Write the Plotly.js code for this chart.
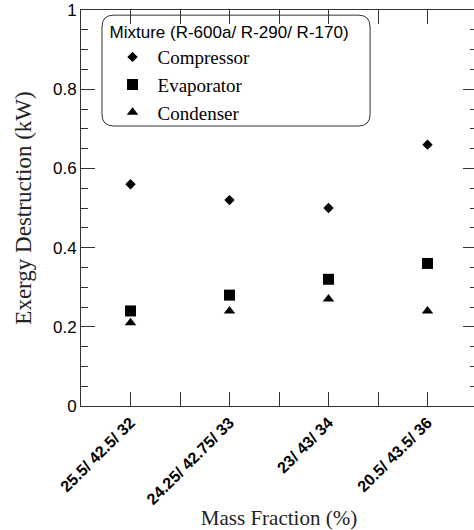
<!DOCTYPE html>
<html>
<head>
<meta charset="utf-8">
<script src="https://cdn.plot.ly/plotly-3.0.1.min.js"></script>
<style>
html,body{margin:0;padding:0;overflow:hidden;background:#fff;}
#chart{width:478px;height:530px;}
</style>
</head>
<body>
<div id="chart"></div>
<script>
// Data
const categories = ['25.5/ 42.5/ 32', '24.25/ 42.75/ 33', '23/ 43/ 34', '20.5/ 43.5/ 36'];
const compressor = [0.56, 0.52, 0.50, 0.66];
const evaporator = [0.24, 0.28, 0.32, 0.36];
const condenser  = [0.21, 0.24, 0.27, 0.24];
const yTickVals  = [0, 0.2, 0.4, 0.6, 0.8, 1];
const yTickText  = ['0', '0.2', '0.4', '0.6', '0.8', '1'];

const xIdx = categories.map((c, i) => i);
const xTickVals = [];
const xTickText = [];
categories.forEach((c, i) => {
  xTickVals.push(i); xTickText.push(c);
  xTickVals.push(i + 0.5); xTickText.push('');
});

const serif = 'Liberation Serif';
const sans = 'Liberation Sans';

const traces = [
  {x: xIdx, y: compressor, name: 'Compressor', type: 'scatter', mode: 'markers',
   marker: {symbol: 'diamond', size: 8, color: '#000'}},
  {x: xIdx, y: evaporator, name: 'Evaporator', type: 'scatter', mode: 'markers',
   marker: {symbol: 'square', size: 11, color: '#000'}},
  {x: xIdx, y: condenser, name: 'Condenser', type: 'scatter', mode: 'markers',
   marker: {symbol: 'triangle-up', size: 10, color: '#000'}}
];

// rounded legend box (paper coords; plot area is square so radius equal in x and y)
const bx0 = 0.053, bx1 = 0.730, by0 = 0.707, by1 = 0.987, r = 0.03;
const boxPath = `M ${bx0 + r} ${by1} L ${bx1 - r} ${by1} Q ${bx1} ${by1} ${bx1} ${by1 - r} ` +
  `L ${bx1} ${by0 + r} Q ${bx1} ${by0} ${bx1 - r} ${by0} L ${bx0 + r} ${by0} ` +
  `Q ${bx0} ${by0} ${bx0} ${by0 + r} L ${bx0} ${by1 - r} Q ${bx0} ${by1} ${bx0 + r} ${by1} Z`;

const layout = {
  width: 478, height: 530,
  margin: {l: 81, r: 1, t: 10, b: 124},
  paper_bgcolor: '#fff', plot_bgcolor: '#fff',
  showlegend: true,
  legend: {
    x: 0.067, y: 0.985, xanchor: 'left', yanchor: 'top',
    bgcolor: 'rgba(0,0,0,0)', borderwidth: 0,
    font: {family: serif, size: 19, color: '#000'},
    itemwidth: 40,
    title: {text: 'Mixture (R-600a/ R-290/ R-170)', font: {family: sans, size: 17, color: '#000'}, side: 'top'},
    tracegroupgap: 0
  },
  xaxis: {
    range: [-0.5, 3.5], showgrid: false, zeroline: false,
    showline: true, linecolor: '#333', linewidth: 1, mirror: 'allticks',
    ticks: 'inside', ticklen: 14, tickcolor: '#333', tickwidth: 1,
    tickmode: 'array', tickvals: xTickVals, ticktext: xTickText,
    tickangle: -45,
    tickfont: {family: sans, size: 16, color: '#000', weight: 'bold'},
    title: {text: 'Mass Fraction (%)', font: {family: serif, size: 21, color: '#222'}, standoff: 6}
  },
  yaxis: {
    range: [0, 1], showgrid: false, zeroline: false,
    showline: true, linecolor: '#333', linewidth: 1, mirror: 'allticks',
    ticks: 'inside', ticklen: 14, tickcolor: '#333', tickwidth: 1,
    tickmode: 'array', tickvals: yTickVals, ticktext: yTickText,
    tickfont: {family: sans, size: 17, color: '#000'},
    minor: {dtick: 0.05, ticks: 'inside', ticklen: 7, tickcolor: '#333', tickwidth: 1, showgrid: false},
    title: {text: 'Exergy Destruction (kW)', font: {family: serif, size: 23, color: '#222'}, standoff: 14}
  },
  shapes: [{type: 'path', xref: 'paper', yref: 'paper', path: boxPath,
            line: {color: '#333', width: 1}, fillcolor: 'rgba(0,0,0,0)'}]
};

Plotly.newPlot('chart', traces, layout, {staticPlot: true, displayModeBar: false});
</script>
</body>
</html>
